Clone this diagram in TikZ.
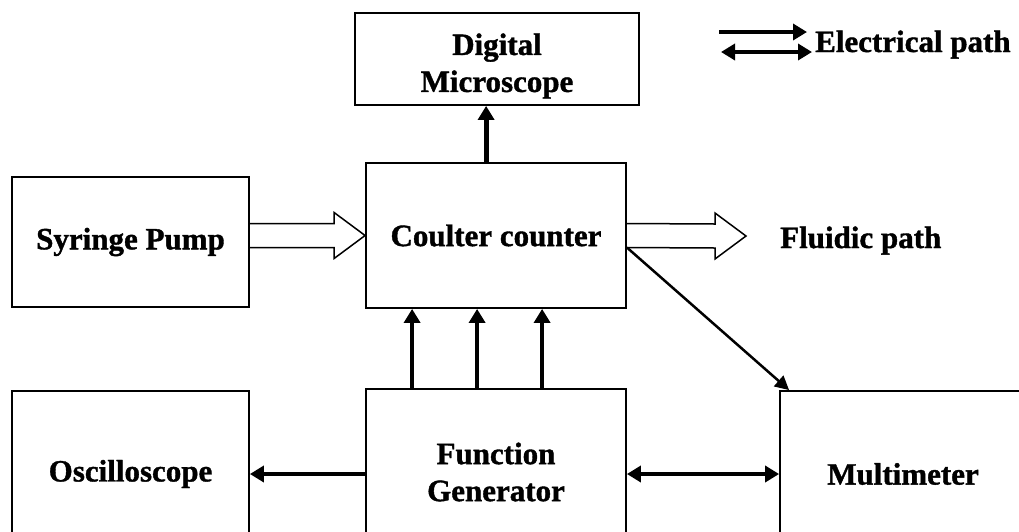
\documentclass[tikz,border=0pt]{standalone}
\usepackage{fontspec}
\setmainfont{Liberation Serif}[BoldFeatures={FakeBold=1.2}]
\usetikzlibrary{arrows.meta,calc}
\begin{document}
\begin{tikzpicture}[x=1pt,y=-1pt,
  blockbox/.style={draw, line width=1.8pt, inner sep=0pt, align=center,
    font=\fontsize{31}{37}\selectfont\bfseries},
  label/.style={inner sep=0pt, align=center, font=\fontsize{31}{37}\selectfont\bfseries},
  elec/.style={line width=4pt, -{Triangle[length=14pt,width=16pt]}},
  elecboth/.style={line width=4pt, {Triangle[length=14pt,width=16pt]}-{Triangle[length=14pt,width=16pt]}},
  diag/.style={line width=2.5pt, -{Triangle[length=14pt,width=14pt]}},
  fluid/.style={draw, line width=1.5pt, line join=miter}]

\useasboundingbox (0,0) rectangle (1019,531);
\clip (0,0) rectangle (1019,531);

% blocks
\node[blockbox, minimum width=284, minimum height=92] (mic) at (497,59) {};
\node[label] (mictext) at ($(mic.center)+(0,7)$) {Digital\\Microscope};
\node[blockbox, minimum width=260, minimum height=145] (cc) at (496,235.5) {Coulter counter};
\node[blockbox, minimum width=237, minimum height=130] (syr) at (130.5,242) {Syringe Pump};
\node[blockbox, minimum width=237, minimum height=166] (osc) at (130.5,474) {Oscilloscope};
\node[blockbox, minimum width=260, minimum height=166] (fg) at (496,472) {Function\\Generator};
\node[blockbox, minimum width=246, minimum height=166] (mm) at (903,474) {Multimeter};

% fluidic path (hollow arrows)
\coordinate (ftip) at (746,236);
\draw[fluid] ($(syr.east |- cc.west)+(0,-12)$) -- ($(cc.west)+(-31,-12)$)
  -- ($(cc.west)+(-31,-23)$) -- (cc.west) -- ($(cc.west)+(-31,23)$)
  -- ($(cc.west)+(-31,12)$) -- ($(syr.east |- cc.west)+(0,12)$);
\draw[fluid] ($(cc.east)+(0,-12)$) -- ($(ftip)+(-31,-12)$)
  -- ($(ftip)+(-31,-23)$) -- (ftip) -- ($(ftip)+(-31,23)$)
  -- ($(ftip)+(-31,12)$) -- ($(cc.east)+(0,12)$);
\node[label, anchor=base west] (fluidtext) at (780,248) {Fluidic path};

% electrical paths
\coordinate (m0) at ($(cc.north west)+(121,0)$);
\draw[elec, line width=5pt] (m0) -- (m0 |- mic.south);
\foreach \dx in {47,112,177} {
  \draw[elec] ($(fg.north west)+(\dx,0)$) -- ($(cc.south west)+(\dx,0)$);
}
\draw[elec] (fg.west |- osc.east) -- (osc.east);
\draw[elecboth] (fg.east |- mm.west) -- (mm.west);
\draw[diag] ($(cc.east)+(0,12)$) -- ($(mm.north west)+(10,0)$);

% legend
\coordinate (l1a) at (719,32);
\coordinate (l1b) at (807,32);
\coordinate (l2a) at (721,52);
\coordinate (l2b) at (812,52);
\draw[elec] (l1a) -- (l1b);
\draw[elecboth] (l2a) -- (l2b);
\node[label, anchor=base west] (eltext) at (815,52) {Electrical path};
\end{tikzpicture}
\end{document}
